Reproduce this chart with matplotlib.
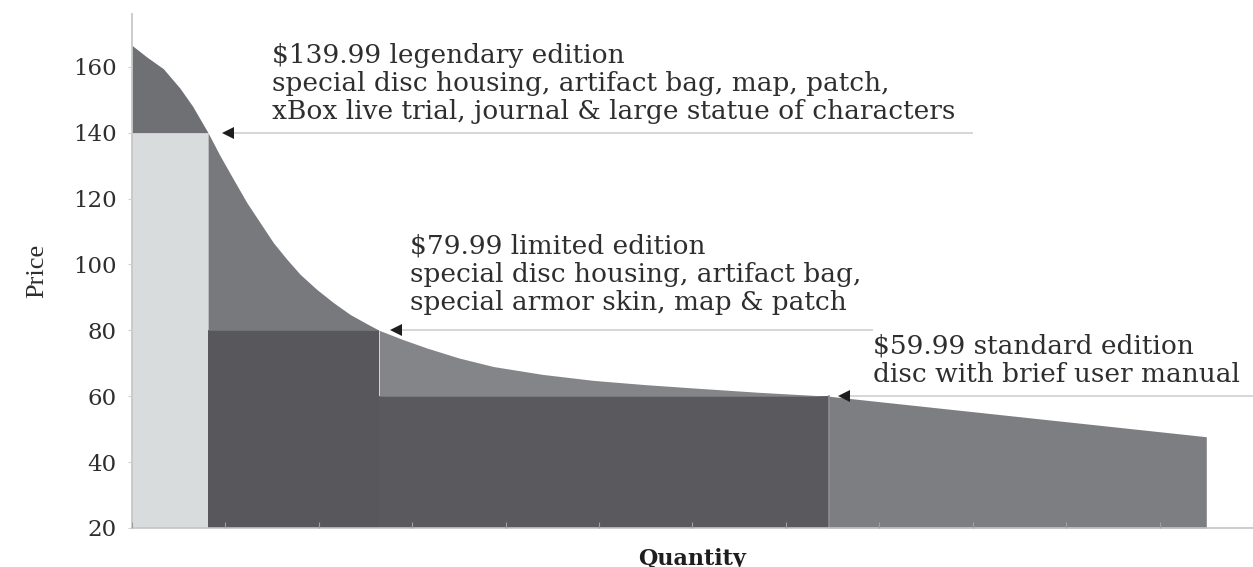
"""
Tiered pricing over a demand curve: three game editions.
"""
import matplotlib

matplotlib.use("Agg")
import matplotlib.pyplot as plt
import numpy as np

# demand curve (quantity in tick units, price in $)
curve_q = [0, 0.157, 0.336, 0.514, 0.65, 0.814, 0.943, 1.085, 1.229, 1.371,
           1.514, 1.657, 1.80, 1.979, 2.157, 2.336, 2.514, 2.646, 2.9, 3.16,
           3.5, 3.87, 4.4, 4.94, 5.5, 6.01, 6.7, 7.457, 11.5]
curve_p = [166.5, 163, 159.4, 153.5, 148, 140, 133, 125.9, 118.8, 112.7,
           106.6, 101.6, 97.0, 92.4, 88.4, 84.8, 82.0, 80, 77.2, 74.6,
           71.6, 69.0, 66.6, 64.8, 63.5, 62.5, 61.2, 60, 47.7]

# edition boundaries on the quantity axis and their price levels
break_q = [0.814, 2.646, 7.457]
tier_p = [140, 80, 60]

labels = [
    "$139.99 legendary edition\n"
    "special disc housing, artifact bag, map, patch,\n"
    "xBox live trial, journal & large statue of characters",
    "$79.99 limited edition\n"
    "special disc housing, artifact bag,\n"
    "special armor skin, map & patch",
    "$59.99 standard edition\n"
    "disc with brief user manual",
]
yticks = [20, 40, 60, 80, 100, 120, 140, 160]

SERIF = "DejaVu Serif"
TXT = "#2e2e2e"

fig = plt.figure(figsize=(12.53, 5.67), dpi=100)
ax = fig.add_axes([0.1053, 0.0688, 0.8947, 0.9065])

q = np.array(curve_q)
p = np.array(curve_p)
base = 20

# segments of the curve between the edition boundaries
m1 = q <= break_q[0]
m2 = (q >= break_q[0]) & (q <= break_q[1])
m3 = (q >= break_q[1]) & (q <= break_q[2])
m4 = q >= break_q[2]

# legendary tier
ax.fill_between([0, break_q[0]], base, tier_p[0], color="#d9dcdd", lw=0)
ax.fill_between(q[m1], tier_p[0], p[m1], color="#6f7073", lw=0)
# limited tier
ax.fill_between([break_q[0], break_q[1]], base, tier_p[1], color="#58575c", lw=0)
ax.fill_between(q[m2], tier_p[1], p[m2], color="#78797c", lw=0)
# standard tier
ax.fill_between([break_q[1], break_q[2]], base, tier_p[2], color="#5a595e", lw=0)
ax.fill_between(q[m3], tier_p[2], p[m3], color="#848588", lw=0)
ax.fill_between(q[m4], base, p[m4], color="#7d7e81", lw=0)
ax.axvline(break_q[2], ymin=0, ymax=(tier_p[2] - base) / (176 - base),
           color="#8c8d90", lw=1.2)

# arrows + callouts: (tip x, right end x, text x, text bottom y)
callouts = [(1.03, 9.0, 1.5, 142.5), (2.83, 7.93, 2.98, 84.5), (7.62, 12.0, 7.93, 62.8)]
for (tip, end, tx, ty), price, text in zip(callouts, tier_p, labels):
    ax.plot([tip, end], [price, price], color="#cfcfcf", lw=1.2,
            solid_capstyle="butt", zorder=3)
    ax.plot(tip, price, marker="<", ms=8, color="#1e1e1e", mew=0, zorder=4)
    ax.text(tx, ty, text, family=SERIF, fontsize=19, color=TXT,
            ha="left", va="bottom", linespacing=1.17)

ax.set_xlim(0, 12)
ax.set_ylim(20, 176)
ax.set_xticks(np.arange(0, 13))
ax.set_xticklabels([])
ax.set_yticks(yticks)
ax.set_yticklabels([str(v) for v in yticks], family=SERIF, fontsize=16.5, color=TXT)
ax.tick_params(axis="y", direction="out", length=3, color="#d0d0d0", pad=8)
ax.tick_params(axis="x", direction="in", length=4, color="#a0a0a0")
ax.set_axisbelow(False)

for side in ["top", "right"]:
    ax.spines[side].set_visible(False)
for side in ["left", "bottom"]:
    ax.spines[side].set_color("#c4c4c4")
    ax.spines[side].set_linewidth(1.2)

ax.set_ylabel("Price", family="Liberation Serif", fontsize=19, color=TXT, labelpad=18)
ax.set_xlabel("Quantity", family=SERIF, fontsize=16, fontweight="bold",
              color="#1e1e1e", labelpad=11)

fig.savefig("out.png", dpi=100)
